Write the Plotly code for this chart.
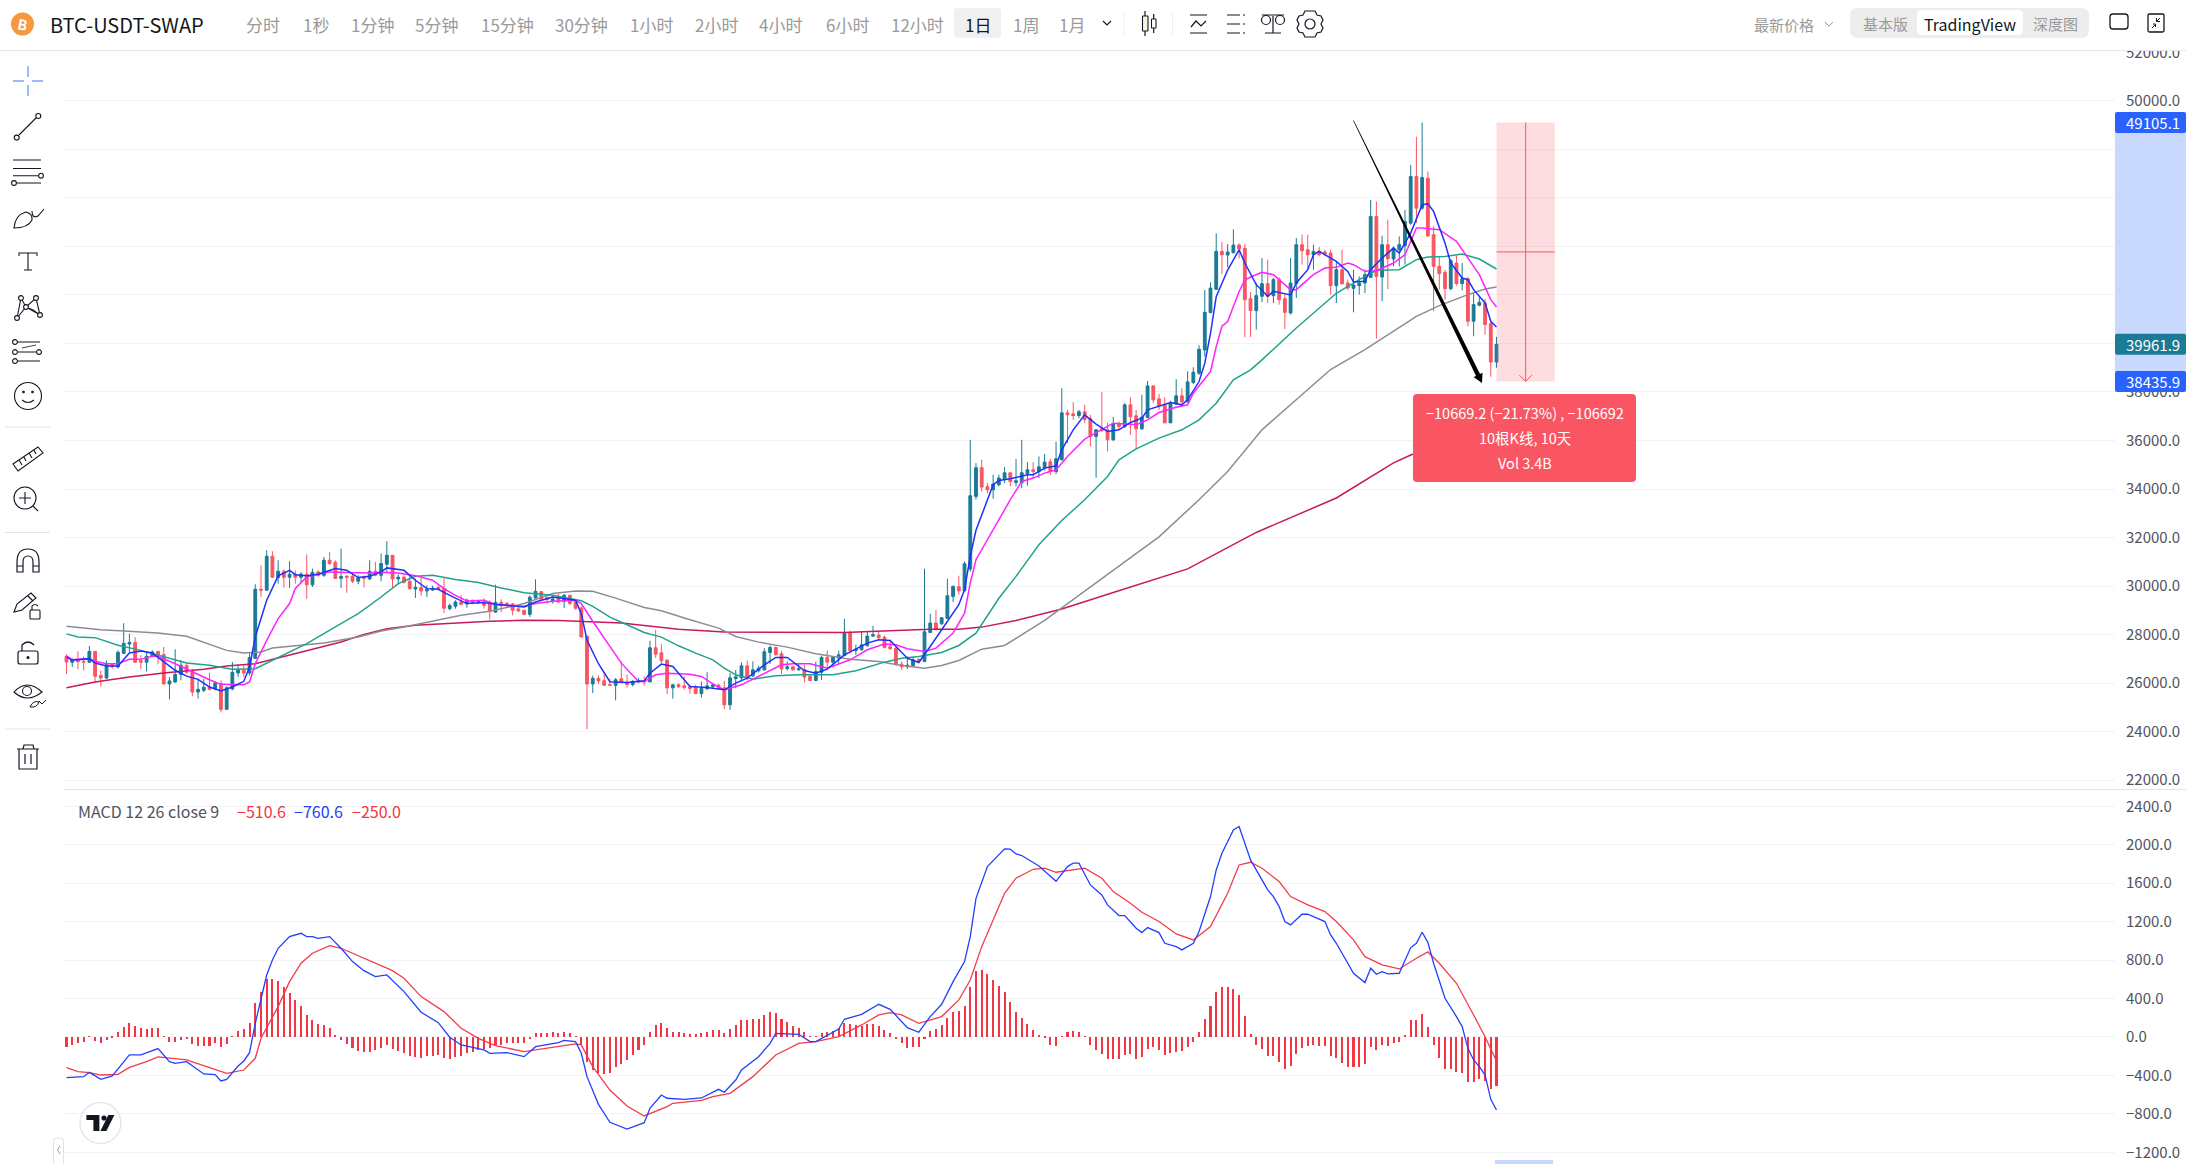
import re
import plotly.graph_objects as go

W, H = 2186, 1164
FONT = "Noto Sans CJK SC"

# ---------- price data (one entry per daily candle) ----------
opens = [27105,26858,26940,26900,26860,27310,26320,26210,26800,26665,27230,27610,27670,26925,26860,27105,27310,27175,25965,26045,
26360,26720,26500,25635,25705,25840,25770,25980,24920,25760,26420,26530,26420,27020,29870,29830,31230,30350,30610,30365,
30490,30365,30490,30050,30585,30445,31065,30980,30320,30405,30405,30200,30380,30295,30610,30445,30900,31270,30295,30365,
30200,29880,29940,29800,29840,29940,29900,29070,29170,29345,29265,29415,29320,29345,29250,28930,29330,29280,29265,29060,
29000,28835,29510,29770,29525,29375,29510,29375,29620,29345,29100,27930,25965,26200,26100,25935,25910,26178,26026,25944,
26054,26081,26054,27456,27250,26948,25806,25930,25889,25848,25820,25573,25765,25861,25916,25806,25105,26191,26219,26714,
26301,26508,26549,27264,27470,27209,26604,26673,26549,26563,26274,26109,26453,27058,26865,27030,27140,28075,27346,27374,
27539,27938,27979,27896,27498,27443,26783,26673,26714,26975,26893,28089,28474,28446,28666,29574,29973,29808,30700,33696,
34876,34094,33970,34176,34424,34670,34273,34259,34629,34794,34725,34863,35123,34725,35206,37140,37099,37030,37181,36907,
36166,36482,36440,36030,36700,36577,37469,37016,36481,36948,38251,37717,37469,36728,37510,37840,37593,38388,38773,39733,
41270,42230,43794,43643,43739,44055,43918,41846,41352,41942,42463,41970,42628,41846,41256,42463,44069,43863,43657,43794,
43767,43726,42381,43040,42491,42271,42381,42491,42724,45235,42738,44069,43479,43863,44027,44958,46877,45575,46808,44479,
43178,42930,42258,43314,42463,42669,40913,41572,41668,40817,39232]
highs = [27188,27010,27310,27105,27530,27325,26530,26940,26830,27350,28470,28040,27890,27150,27325,27350,27325,27490,26250,27395,
26940,26840,26595,26185,26185,26430,26075,26115,25870,26870,26775,26735,27240,30075,30860,31480,31435,31065,30695,31025,
30650,30580,31300,30720,30650,31200,31410,31065,31545,30445,30490,30445,30445,31065,30995,31340,31850,31270,30475,30445,
30445,30310,30365,30030,30020,30030,30320,29280,29415,29620,29485,29445,29415,29485,29415,30060,29455,29345,29305,29140,
29030,29620,30280,29800,29580,29580,29690,29675,29650,29375,29170,27970,26310,26320,26460,26185,26210,26893,26343,26136,
26205,26274,27745,28199,27608,26989,25971,25999,26274,25930,25930,26068,26453,25999,25971,26095,26411,26549,26851,26934,
26893,26714,27443,27553,27511,27333,26893,26714,26796,26755,26343,26879,27126,27346,27099,27333,28653,28158,27580,28130,
28130,28364,28130,27965,27786,27484,26893,27099,27071,27030,30715,28859,29024,28721,30303,30028,30426,31018,36029,35068,
35206,34245,34588,34588,34904,34670,35233,36029,35110,35110,35343,35452,35247,35946,38155,37263,37579,37263,37469,37058,
36468,37990,36742,36975,36783,37538,37785,37263,37880,38457,38279,37922,37772,37634,38526,38155,38855,39020,39925,42203,
42518,44535,44178,44096,44700,44123,44096,42120,42490,43520,43451,42697,42724,42011,43520,44343,44480,44480,44069,43973,
43863,43863,43383,43863,42628,43040,42765,43040,45921,45850,44439,45098,44000,44412,45500,47356,48520,49105,47082,44822,
43590,43040,43480,43616,43314,42738,42080,41942,41832,40913,40273]
lows = [26376,26665,26570,26530,26830,26075,25870,26180,26600,26600,27190,27280,26830,26600,26490,27075,26800,25965,25330,26020,
26115,26390,25455,25360,25635,25705,25705,24795,24920,25705,26250,26250,26320,26995,29550,29800,30350,30100,29940,29925,
30100,30100,29470,29965,30380,30380,30860,30295,29925,29730,30130,30075,29950,30240,30405,30200,30585,29910,30075,30100,
29855,29510,29610,29550,29800,29830,28890,29000,29070,29210,29110,29250,29250,29070,28620,28890,28930,29140,28795,28930,
28795,28730,29485,29445,29280,29280,29305,29100,29235,29030,27900,24100,25590,25965,25880,25880,25290,25999,25820,25861,
25999,25889,26026,27030,26824,25559,25366,25820,25724,25559,25545,25408,25724,25793,25724,24940,24899,25793,26136,26109,
26246,26439,26521,26796,27140,26384,26521,26508,26521,26026,26081,26081,26136,26618,26659,26796,27113,27236,27168,27346,
27511,27910,27828,27429,27374,26714,26549,26590,26686,26824,26865,28061,28171,28405,28639,29340,29643,29780,30600,33560,
33900,33833,33600,34108,34245,34108,34108,34040,34135,34450,34450,34767,34574,34616,35178,35892,36852,36920,36715,35754,
34465,36372,35549,35974,36440,36509,36234,35644,36440,36920,37538,37263,36715,36715,37469,37400,37565,38334,38704,39459,
41242,42203,42861,43136,43712,43506,40254,40268,40570,41700,41668,41668,41600,40597,41187,41873,43245,43040,43040,43588,
43588,42011,41668,42422,42190,41283,42011,42080,42697,40200,41736,42244,43177,43177,43250,44890,44958,45507,44383,41328,
42218,41805,42190,42381,42190,40707,40296,41530,40364,38630,39000]
closes = [26871,26968,26885,26870,27310,26280,26210,26760,26665,27270,27640,27680,26860,26860,27105,27285,27150,25965,26090,26360,
26735,26445,25635,25745,25830,25745,26005,24920,25810,26445,26555,26420,27050,29870,29830,31230,30365,30610,30365,30490,
30365,30490,30050,30570,30445,31065,30930,30320,30390,30365,30200,30335,30320,30610,30445,30930,31270,30295,30365,30160,
29900,29950,29800,29870,29910,29880,29085,29195,29345,29250,29415,29305,29375,29210,28960,29330,29195,29210,29000,28975,
28835,29540,29785,29455,29445,29470,29345,29620,29280,29085,27900,25965,26200,26090,25910,25910,26140,26026,25944,26068,
26109,26054,27456,27195,26920,25806,25930,25848,25820,25779,25573,25779,25889,25930,25793,25105,26219,26260,26714,26274,
26549,26618,27291,27470,27168,26590,26673,26549,26590,26246,26109,26480,27058,26865,27058,27168,28048,27346,27401,27580,
27938,27993,27869,27470,27415,26769,26673,26741,26961,26893,28116,28474,28226,28694,29601,29986,29808,30921,33724,34876,
34080,33970,34204,34451,34670,34314,34341,34670,34794,34725,34917,35110,34725,35247,37140,37058,37030,37181,36866,36166,
36440,36399,36030,36687,36577,37469,36975,36481,36961,38251,37675,37428,36728,37538,37840,37593,38416,38814,39761,41283,
42285,43794,43657,43767,44055,43890,41805,41352,41969,42463,41942,42628,41805,41283,42491,44069,43822,43657,43794,43657,
43684,42381,43040,42463,42285,42408,42491,42834,45235,42765,44069,43492,43931,44069,45027,46877,45575,46835,44438,43178,
42876,42258,43410,42463,42669,40913,41599,41695,40776,39232,39961.9]

# ---------- moving averages: (candle number, value) ----------
ma_blue = [(0,27080),(1,26940),(4,27010),(5,26830),(7,26710),(9,26710),(11,27240),(13,27325),(15,27240),(17,26870),(19,26530),(21,26290),(23,26155),(25,25840),(27,25675),(29,25840),(31,26075),(32,26665),(33,27900),(35,29415),(37,30420),(39,30650),(40,30470),(42,30430),(44,30490),(47,30720),(49,30650),(51,30350),(53,30405),(55,30585),(56,30750),(59,30650),(61,30240),(63,29895),(65,29870),(67,29620),(70,29280),(73,29320),(75,29250),(80,29140),(82,29345),(85,29550),(89,29415),(90,28865),(91,27765),(93,26800),(95,26060),(98,26026),(101,26095),(102,26411),(104,26783),(106,26686),(109,25861),(112,25820),(115,25724),(117,25999),(119,26205),(122,26755),(124,27058),(126,27058),(129,26521),(131,26411),(133,26576),(136,27168),(138,27401),(140,27649),(142,27786),(144,27759),(147,27030),(149,26851),(151,27511),(153,28199),(156,29230),(157,29849),(158,31224),(159,32300),(161,33560),(162,34176),(163,34355),(165,34424),(168,34588),(169,34588),(171,34863),(173,34958),(174,35617),(176,36440),(178,37058),(180,36674),(182,36372),(184,36440),(186,36742),(188,36921),(189,37263),(193,37565),(195,37469),(196,37675),(198,38430),(199,39184),(200,40419),(201,41928),(203,43026),(205,43860),(206,43314),(208,42422),(210,41942),(211,42148),(214,41998),(215,42491),(217,43040),(218,43657),(219,43794),(222,43383),(224,42971),(225,42532),(227,42560),(228,43040),(230,43520),(232,43931),(233,43726),(235,44549),(237,45715),(238,45756),(239,45441),(241,44137),(242,43314),(244,42697),(245,42628),(246,42217),(248,41668),(249,40913),(250,40680)]
ma_magenta = [(0,27120),(1,26970),(4,27010),(5,26900),(7,26800),(9,26800),(11,26980),(13,26980),(15,27105),(16,27105),(19,26800),(21,26570),(23,26360),(25,26140),(27,25950),(31,25935),(32,26045),(33,26800),(35,27765),(37,28660),(39,29280),(40,29900),(42,30380),(44,30490),(46,30585),(49,30555),(53,30540),(55,30570),(58,30540),(61,30430),(64,30240),(66,29895),(68,29620),(70,29390),(73,29415),(75,29240),(80,29170),(82,29280),(85,29375),(89,29415),(90,29280),(92,28550),(95,27500),(97,26824),(100,26068),(101,26068),(103,26343),(105,26411),(109,26370),(111,26274),(113,25971),(115,25724),(118,25930),(121,26274),(125,26755),(127,26796),(130,26796),(133,26618),(137,26961),(140,27374),(143,27608),(145,27580),(147,27415),(150,27305),(152,27443),(155,28061),(157,28886),(158,30124),(159,31086),(165,33560),(167,34314),(169,34451),(171,34657),(173,34794),(175,35343),(178,36056),(181,36440),(183,36715),(186,36674),(187,36646),(189,36852),(191,37154),(194,37373),(196,37469),(197,37949),(200,38850),(201,39870),(202,40707),(203,40900),(205,42140),(206,42614),(207,42738),(209,42930),(211,42834),(214,42216),(215,42216),(218,42834),(220,43108),(222,43136),(224,43314),(225,43245),(227,42971),(229,43000),(232,43314),(234,43657),(236,44755),(237,44755),(240,44686),(243,44206),(245,43520),(247,42834),(249,41805),(250,41503)]
ma_green = [(0,28030),(2,27900),(5,27875),(9,27560),(13,27350),(17,27080),(21,26830),(25,26735),(29,26570),(33,26595),(36,26940),(42,27630),(47,28315),(51,28865),(55,29550),(58,30100),(61,30405),(64,30445),(68,30270),(72,30145),(76,29925),(80,29730),(85,29620),(90,29395),(92,29161),(95,28721),(98,28405),(101,28089),(104,27896),(107,27539),(110,27236),(113,26961),(115,26618),(117,26343),(120,26164),(124,26301),(128,26343),(134,26343),(138,26510),(143,26865),(146,27030),(149,27099),(153,27264),(156,27552),(159,28061),(160,28433),(163,29500),(166,30400),(170,31700),(174,32700),(178,33560),(182,34519),(184,35206),(187,35658),(191,36097),(195,36440),(198,36852),(201,37538),(204,38498),(207,38910),(209,39321),(215,40639),(218,41256),(222,42068),(226,42628),(229,43012),(233,43040),(236,43451),(238,43561),(241,43588),(244,43684),(247,43479),(250,43067)]
ma_gray = [(0,28340),(6,28205),(10,28150),(16,28070),(21,27930),(25,27600),(28,27350),(31,27240),(34,27285),(36,27450),(39,27520),(45,27655),(51,27900),(55,28150),(59,28315),(64,28560),(69,28795),(74,28960),(80,29280),(85,29690),(89,29800),(92,29785),(96,29505),(101,29120),(104,28983),(109,28611),(114,28267),(117,27924),(121,27690),(126,27484),(131,27209),(137,26989),(142,26893),(146,26728),(150,26618),(153,26728),(156,26934),(160,27400),(164,27552),(171,28590),(181,30310),(191,32027),(198,33560),(203,34725),(209,36440),(221,38924),(227,39747),(236,41119),(240,41558),(245,42011),(248,42244),(250,42326)]
ma_crimson = [(0,25810),(5,26045),(11,26250),(17,26415),(24,26570),(28,26705),(33,26800),(38,27105),(43,27395),(48,27695),(52,28010),(56,28245),(61,28385),(68,28480),(74,28550),(80,28590),(86,28580),(97,28474),(107,28226),(115,28103),(127,28089),(136,28089),(145,28171),(151,28226),(156,28226),(160,28309),(166,28586),(174,29056),(183,29735),(196,30710),(208,32210),(222,33630),(232,35080),(235,35400),(250,36700)]

# ---------- MACD pane ----------
macd_hist = [-100,-83,-66,-49,10,-38,-59,-31,-4,55,108,146,115,94,83,94,94,10,-49,-49,
-31,-24,-76,-90,-90,-90,-66,-100,-73,10,66,83,146,357,468,600,604,583,517,458,
385,323,229,177,135,125,90,21,-31,-76,-118,-142,-160,-153,-135,-118,-83,-125,-142,-170,
-198,-212,-219,-198,-198,-187,-222,-226,-212,-198,-170,-153,-135,-128,-118,-83,-83,-66,-66,-66,
-66,-24,38,38,38,49,38,49,38,10,-83,-257,-344,-371,-385,-371,-316,-281,-239,-187,
-135,-83,49,121,146,90,55,49,38,31,31,38,56,73,73,38,80,125,177,177,
184,184,229,260,246,184,153,115,90,49,10,3,38,49,66,90,142,132,125,118,
132,132,118,73,38,-24,-66,-111,-100,-100,-24,66,87,125,201,264,274,323,520,690,
697,656,593,531,468,364,264,198,132,73,21,-14,-83,-90,10,49,62,49,10,-83,
-135,-177,-226,-232,-232,-187,-177,-226,-212,-125,-108,-135,-184,-170,-153,-142,-104,-49,56,191,
323,468,517,517,500,437,219,31,-80,-121,-198,-198,-257,-330,-302,-177,-111,-90,-83,-94,
-97,-198,-215,-274,-312,-316,-316,-281,-104,-135,-83,-94,-66,-49,21,177,177,239,104,-83,
-215,-330,-330,-368,-371,-465,-465,-441,-455,-538,-510.6]
macd_dif = [(0,-423),(3,-413),(4,-368),(6,-441),(8,-406),(11,-187),(13,-187),(16,-121),(18,-257),(19,-274),(21,-257),(23,-344),(24,-385),(26,-392),(27,-458),(28,-441),(30,-302),(31,-250),(32,-163),(33,142),(35,645),(36,802),(37,923),(39,1044),(41,1079),(42,1044),(43,1044),(44,1027),(46,1044),(48,923),(50,784),(52,690),(54,628),(56,645),(59,472),(62,257),(65,149),(67,-3),(69,-83),(73,-135),(74,-170),(77,-163),(80,-205),(82,-101),(86,-59),(87,-35),(89,-49),(90,-170),(91,-413),(93,-701),(95,-888),(98,-958),(101,-892),(102,-743),(104,-604),(105,-638),(108,-649),(111,-635),(114,-545),(115,-576),(117,-448),(118,-344),(121,-205),(123,-66),(124,38),(128,28),(130,-49),(131,-49),(135,83),(136,184),(139,236),(142,340),(144,288),(147,97),(149,49),(151,212),(153,340),(155,576),(157,784),(158,1044),(159,1443),(161,1773),(164,1957),(165,1954),(166,1905),(167,1888),(170,1780),(173,1620),(175,1773),(176,1808),(177,1808),(179,1582),(181,1478),(182,1374),(184,1263),(185,1263),(187,1131),(188,1086),(189,1138),(191,1086),(192,975),(194,940),(195,906),(197,975),(198,1097),(200,1461),(201,1738),(202,1912),(204,2155),(205,2190),(207,1843),(209,1634),(210,1530),(211,1461),(212,1357),(213,1201),(214,1166),(216,1277),(217,1277),(220,1201),(221,1062),(222,975),(223,871),(225,663),(227,566),(228,715),(229,652),(230,680),(231,656),(233,663),(235,930),(236,975),(237,1090),(238,985),(239,767),(240,593),(241,403),(243,212),(244,108),(245,-118),(246,-239),(247,-309),(248,-396),(249,-649),(250,-760.6)]
macd_dea = [(0,-319),(2,-361),(4,-371),(6,-396),(9,-389),(11,-316),(14,-257),(16,-208),(21,-239),(26,-337),(28,-378),(31,-344),(33,-222),(34,-14),(37,316),(39,576),(41,767),(43,871),(46,951),(48,923),(52,819),(55,739),(57,690),(59,611),(62,420),(66,264),(69,90),(72,-14),(75,-90),(80,-153),(89,-73),(90,-83),(92,-309),(95,-552),(98,-718),(101,-822),(105,-725),(106,-690),(111,-660),(113,-621),(116,-586),(120,-413),(124,-187),(128,-66),(131,-49),(135,3),(139,125),(142,229),(144,253),(146,229),(149,142),(153,212),(156,385),(158,593),(160,940),(162,1218),(164,1495),(166,1652),(169,1745),(171,1756),(173,1714),(178,1756),(181,1652),(183,1513),(186,1391),(188,1298),(191,1201),(194,1072),(197,1010),(200,1149),(203,1496),(205,1790),(207,1818),(209,1756),(212,1617),(214,1461),(217,1374),(220,1305),(222,1201),(225,1010),(227,836),(230,750),(233,708),(236,819),(238,885),(240,767),(243,559),(246,229),(248,3),(250,-250)]

price_ticks = list(range(22000, 52001, 2000))
macd_ticks = list(range(-1200, 2401, 400))
interval_labels = ["分时","1秒","1分钟","5分钟","15分钟","30分钟","1小时","2小时","4小时","6小时","12小时","1日","1周","1月"]
interval_centers = [263,316,372,436.5,507,581,651,716,780,847,917,977.5,1026,1072]
range_top, range_bottom = 49105.1, 38435.9
last_close = 39961.9

UP, DOWN = "#1b7a96", "#f95562"
days = list(range(len(closes)))
assert len(opens) == len(highs) == len(lows) == len(closes) == len(macd_hist)

fig = go.Figure()
fig.add_trace(go.Candlestick(x=days, open=opens, high=highs, low=lows, close=closes, whiskerwidth=0,
    increasing=dict(line=dict(color=UP, width=1), fillcolor=UP),
    decreasing=dict(line=dict(color=DOWN, width=1), fillcolor=DOWN),
    hoverinfo="skip", showlegend=False))

def add_ma(series, color, width=1.5, yaxis="y"):
    fig.add_trace(go.Scatter(x=[p[0] for p in series], y=[p[1] for p in series], mode="lines",
        line=dict(color=color, width=width), yaxis=yaxis, hoverinfo="skip", showlegend=False))

add_ma(ma_crimson, "#c8195c")
add_ma(ma_gray, "#8e8b99")
add_ma(ma_green, "#1fa38c")
add_ma(ma_magenta, "#ff22ff")
add_ma(ma_blue, "#1f30ff")

fig.add_trace(go.Bar(x=days, y=macd_hist, width=0.36, marker=dict(color="#f23645", line=dict(width=0)),
    yaxis="y2", hoverinfo="skip", showlegend=False))
add_ma(macd_dea, "#f23c4c", 1.3, "y2")
add_ma(macd_dif, "#2040ff", 1.3, "y2")

# ---------- pixel helpers for the page chrome ----------
def P(s, dx=0, dy=0):
    toks = re.findall(r"[MLQCZ]|-?\d+\.?\d*", s)
    res, buf, isx = "", [], True
    def flush():
        nonlocal res, buf
        if buf:
            res += " ".join(f"{buf[k]},{buf[k+1]}" for k in range(0, len(buf), 2)) + " "
            buf = []
    for t in toks:
        if t in "MLQCZ":
            flush()
            res += t + " "
        else:
            v = float(t)
            buf.append(f"{(v+dx)/W:.6f}" if isx else f"{1-(v+dy)/H:.6f}")
            isx = not isx
    flush()
    return res.strip()

shapes = []
def path(s, dx=0, dy=0, color="#131722", width=1.1, fill=None):
    shapes.append(dict(type="path", xref="paper", yref="paper", path=P(s, dx, dy), layer="above",
        line=dict(color=color, width=width) if width else dict(width=0),
        fillcolor=fill if fill else "rgba(0,0,0,0)"))
def rrect(x0, y0, x1, y1, r, fill, color=None, width=0):
    s = (f"M{x0+r} {y0} L{x1-r} {y0} Q{x1} {y0} {x1} {y0+r} L{x1} {y1-r} Q{x1} {y1} {x1-r} {y1} "
         f"L{x0+r} {y1} Q{x0} {y1} {x0} {y1-r} L{x0} {y0+r} Q{x0} {y0} {x0+r} {y0} Z")
    path(s, color=color or fill, width=width, fill=fill)
def circle(cx, cy, r, color="#131722", width=1.1, fill=None):
    shapes.append(dict(type="circle", xref="paper", yref="paper", layer="above",
        x0=(cx-r)/W, x1=(cx+r)/W, y0=1-(cy+r)/H, y1=1-(cy-r)/H,
        line=dict(color=color, width=width) if width else dict(width=0),
        fillcolor=fill if fill else "rgba(0,0,0,0)"))
annots = []
def text(x, y, s, size=14, color="#131722", anchor="center", **kw):
    annots.append(dict(xref="paper", yref="paper", x=x/W, y=1-y/H, text=s, showarrow=False,
        xanchor=anchor, yanchor="middle", font=dict(family=FONT, size=size, color=color), **kw))

# white top bar (also clips the 52000 tick label)
rrect(0, 0, W, 50, 0, "#ffffff")
path(f"M0 50.5 L{W} 50.5", color="#e6e6e6", width=1)

# pane separator
path(f"M64 789.5 L{W} 789.5", color="#e0e3eb", width=1)

# price-scale highlight band and time-scale highlight
PX_PER_UNIT = 0.024264
y_top = 100.8 + (50000 - range_top) * PX_PER_UNIT
y_bot = 100.8 + (50000 - range_bottom) * PX_PER_UNIT
y_last = 100.8 + (50000 - last_close) * PX_PER_UNIT
rrect(2115, y_top, W, y_bot, 0, "#c9d9fd")
rrect(1495, 1160, 1553, 1164, 0, "#c9d9fd")

# measure box drawn in data space
range_x0, range_x1 = 250, 260.2
range_mid_x = (range_x0 + range_x1) / 2
range_mid_y = (range_top + range_bottom) / 2
shapes.append(dict(type="rect", xref="x", yref="y", x0=range_x0, x1=range_x1, y0=range_bottom, y1=range_top,
    fillcolor="rgba(249,85,98,0.2)", line=dict(width=0), layer="above"))
shapes.append(dict(type="line", xref="x", yref="y", x0=range_mid_x, x1=range_mid_x, y0=range_bottom, y1=range_top,
    line=dict(color="#f95562", width=1), layer="above"))
shapes.append(dict(type="line", xref="x", yref="y", x0=range_x0, x1=range_x1, y0=range_mid_y, y1=range_mid_y,
    line=dict(color="#f95562", width=1), layer="above"))
ah_dx, ah_dy = 1.1, 260
shapes.append(dict(type="path", xref="x", yref="y", layer="above", line=dict(color="#f95562", width=1),
    path=f"M {range_mid_x-ah_dx},{range_bottom+ah_dy} L {range_mid_x},{range_bottom} L {range_mid_x+ah_dx},{range_bottom+ah_dy}"))

# tapered hand-drawn arrow
sx, sy, ex, ey = 1353.5, 120.7, 1482.0, 383.0
dx_, dy_ = ex - sx, ey - sy
ln = (dx_**2 + dy_**2) ** 0.5
ux, uy = dx_ / ln, dy_ / ln
nx, ny = -uy, ux
def pt(t, w):
    return f"{sx+ux*t+nx*w:.2f} {sy+uy*t+ny*w:.2f}"
neck = ln - 9
path("M" + pt(0, 0.35) + " L" + pt(neck, 2.2) + " L" + pt(neck, 5) + " L" + pt(ln, 0) +
     " L" + pt(neck, -5) + " L" + pt(neck, -2.2) + " L" + pt(0, -0.35) + " Z", color="#000000", width=0, fill="#000000")

# measure tooltip
rrect(1413, 394, 1636, 482, 4, "#f95562")
text(1525, 412.5, "−10669.2 (−21.73%) , −106692", 14.5, "#ffffff")
text(1525, 437.5, "10根K线, 10天", 14.5, "#ffffff")
text(1525, 462.5, "Vol 3.4B", 14.5, "#ffffff")

# price badges
for y_, c_, s_ in [(y_top, "#2962ff", f"{range_top:.1f}"), (y_last, "#1b7a96", f"{last_close:.1f}"), (y_bot, "#2962ff", f"{range_bottom:.1f}")]:
    rrect(2115, y_-10.5, W, y_+10.5, 2, c_)
    text(2124, y_, s_, 15, "#ffffff", "left")

# legend of the MACD pane
text(76, 811, "MACD 12 26 close 9", 16, "#50535e", "left")
text(235, 811, "−510.6", 16, "#f23645", "left")
text(292, 811, "−760.6", 16, "#2040ff", "left")
text(350, 811, "−250.0", 16, "#f23645", "left")

# TradingView badge and collapse tab
circle(100.4, 1123, 20.5, color="#e6e7ee", width=1.5, fill="#ffffff")
path("M-14 -8 L-1 -8 L-1 8 L-7 8 L-7 -3 L-14 -3 Z", 100.4, 1123, color="#131722", width=0, fill="#131722")
circle(104, 1118, 2.6, width=0, fill="#131722")
path("M14 -8 L6 8 L0 8 L8 -8 Z", 100.4, 1123, color="#131722", width=0, fill="#131722")
path("M53.5 1164 L53.5 1141 Q53.5 1138 56 1138 L61 1138 Q63.5 1138 63.5 1141 L63.5 1164", color="#dfe3ea", width=1, fill="#ffffff")
path("M60 1146 L57.5 1150 L60 1154", color="#9aa0aa", width=1)

# header
circle(22.5, 24, 11.5, width=0, fill="#f7983f")
text(22.5, 24, "<b>B</b>", 14, "#ffffff", textangle=12)
text(48, 24, "BTC-USDT-SWAP", 20, "#131722", "left")
rrect(954, 8, 1001, 38, 4, "#f0f0f0")
for lab, cx in zip(interval_labels, interval_centers):
    text(cx, 24, lab, 17, "#131722" if lab == "1日" else "#9a9a9a")

C = "#131722"
path("M1103 21 L1107 25 L1111 21", color=C, width=1.1)
path("M1124 14 L1124 34", color="#eeeeee", width=1)
# candles icon
rrect(1142.5, 16, 1148, 31, 0.5, "#fdf3e0", C, 1.1); path("M1145 11 L1145 16 M1145 31 L1145 36", width=1.2)
rrect(1151.5, 19, 1156, 28, 0.5, "#ffffff", C, 1.1); path("M1153.7 14 L1153.7 19 M1153.7 28 L1153.7 33", width=1.2)
path("M1172.5 14 L1172.5 34", color="#eeeeee", width=1)
# indicators
path("M1190 15 L1207 15 M1190 33 L1207 33 M1191 27 L1196 21 L1201 26 L1206 21", width=1.2)
path("M1227 15 L1240 15 M1227 24 L1240 24 M1227 33 L1240 33 M1243 15 L1245 15 M1243 24 L1245 24 M1243 33 L1245 33", width=1.2)
# scale
path("M1273 16 L1273 33 M1265 33 L1281 33 M1262 15 L1284 15", width=1.2)
circle(1266, 20, 4.5, width=1.2); circle(1280, 20, 4.5, width=1.2)
# gear
path("M1305 11 L1315 11 L1317 15 L1321 16 L1323 20 L1321 24 L1323 28 L1321 32 L1317 33 L1315 37 L1305 37 L1303 33 L1299 32 L1297 28 L1299 24 L1297 20 L1299 16 L1303 15 Z", width=1.2)
circle(1310, 24, 5, width=1.2)

text(1784, 24, "最新价格", 15, "#9a9a9a")
path("M1825 22 L1829 26 L1833 22", color="#9a9a9a", width=1)
rrect(1850, 8, 2089, 38, 8, "#ededed")
rrect(1917, 10, 2023, 35, 5, "#ffffff")
text(1885, 23.5, "基本版", 15, "#9a9a9a")
text(1970, 23.5, "TradingView", 16, "#131722")
text(2055, 23.5, "深度图", 15, "#9a9a9a")
rrect(2110, 14, 2128, 29, 3, "#ffffff", C, 1.3)
rrect(2148, 14, 2164, 32, 1.5, "#ffffff", C, 1.3)
path("M2152 28 L2155 25 M2153 24 L2155.5 24 L2155.5 27 M2160 18 L2157 21 M2156.5 18 L2156.5 21.5 L2160 21.5", width=1)

# left tool bar
B = "#7aa7ff"
path("M13 81 L24 81 M32 81 L43 81 M28 66 L28 77 M28 85 L28 96", color=B, width=1.5)
path("M19 135 L36 118", width=1.1); circle(16.7, 137.6, 2.5); circle(38.3, 116, 2.5)
path("M13 160 L41 160 M13 168.5 L41 168.5 M13 175.7 L38 175.7 M17 183 L41 183", width=1.1)
circle(41, 175.7, 2.4); circle(14, 183, 2.4)
path("M14 228 Q15 215 26 212 Q33 214 32 220 Q28 228 14 228 Z M32 211 Q32 219 38 216 L44 209", width=1.1)
path("M19 256 L19 253 L37 253 L37 256 M28 253 L28 270 M24 270 L32 270", width=1.1)
path("M17 318 L21 298 L26 307 L36 298 L40 315 L26 307 L17 318 M26 307 L33 310 L40 315", width=1.1)
for a, b in [(17, 318), (21, 298), (36, 298), (40, 315), (26, 307)]:
    circle(a, b, 2.4, fill="#ffffff")
path("M17 342 L40 342 M18 352 L36 352 M17 361 L40 361", width=1.1)
path("M22 348 L36 345", color="#131722", width=0.8)
circle(15, 342, 2.4); circle(15, 352, 2.4); circle(39, 352, 2.4); circle(15, 361, 2.4)
circle(28, 396, 13.5)
circle(23.5, 392, 0.8, fill=C); circle(32.5, 392, 0.8, fill=C)
path("M22 400 Q28 405 34 400", width=1.1)
path("M13 464 L38 447 L43 453 L18 471 Z M19 460 L22 465 M24 457 L26 461 M29 453 L32 458 M34 450 L36 454", width=1.1)
circle(25, 498, 11); path("M25 492 L25 504 M19 498 L31 498 M33 506 L38 511", width=1.1)
path("M17 572 L17 562 Q17 549 28 549 Q39 549 39 562 L39 572 L33 572 L33 562 Q33 556 28 556 Q23 556 23 562 L23 572 Z M17 566 L23 566 M33 566 L39 566", width=1.2)
path("M14 612 L17 604 L31 593 L36 598 L22 610 Z M28 596 L33 601", width=1.1)
rrect(30, 610, 40, 619, 1, "#ffffff", C, 1.1); path("M32 610 L32 606 Q35 603 38 606", width=1.1)
rrect(18, 651, 38, 664, 2, "#ffffff", C, 1.2); path("M22 651 L22 645 Q28 639 34 645", width=1.2); circle(28, 657.5, 1, fill=C)
path("M14 692 Q27 678 42 692 Q27 704 14 692 Z", width=1.1); circle(27, 691, 4.5)
path("M30 707 Q33 700 39 702 Q37 708 30 707 Z M39 701 L42 704 L46 700", width=1)
path("M17 749 L39 749 M23 749 L24 745 L33 745 L34 749 M19 749 L19 769 L37 769 L37 749 M25 754 L25 764 M31 754 L31 764", width=1.2)
for y_ in (427, 532.5, 729):
    path(f"M5 {y_} L50 {y_}", color="#e0e3eb", width=1)

fig.update_layout(
    width=W, height=H, margin=dict(l=0, r=0, t=0, b=0, pad=0, autoexpand=False), paper_bgcolor="#ffffff", plot_bgcolor="#ffffff",
    showlegend=False, bargap=0, hovermode=False, shapes=shapes, annotations=annots,
    font=dict(family=FONT, size=15, color="#50535e"),
    xaxis=dict(domain=[64/W, 2115/W], range=[(64-66.5)/5.72, (2115-66.5)/5.72], visible=False, fixedrange=True,
               rangeslider=dict(visible=False), anchor="y", automargin=False),
    yaxis=dict(domain=[1-789.3/H, 1-52/H], range=[21625, 52011], side="right", anchor="x", tickmode="array", automargin=False,
               tickvals=price_ticks, ticktext=[f"{v:.1f}" for v in price_ticks], gridcolor="#f2f3f5", gridwidth=1,
               showline=False, zeroline=False, ticks="", ticklabelstandoff=10, fixedrange=True,
               tickfont=dict(family=FONT, size=15, color="#50535e")),
    yaxis2=dict(domain=[0, 1-790/H], range=[-1322, 2570], side="right", anchor="x", tickmode="array", automargin=False,
                tickvals=macd_ticks, ticktext=[(f"−{abs(v):.1f}" if v < 0 else f"{v:.1f}") for v in macd_ticks],
                gridcolor="#f2f3f5", gridwidth=1, showline=False, zeroline=False, ticks="", ticklabelstandoff=10,
                fixedrange=True, tickfont=dict(family=FONT, size=15, color="#50535e")),
)
fig.write_html("out.html", config=dict(displayModeBar=False),
               post_script="document.body.style.margin='0';document.body.style.overflow='hidden';")
